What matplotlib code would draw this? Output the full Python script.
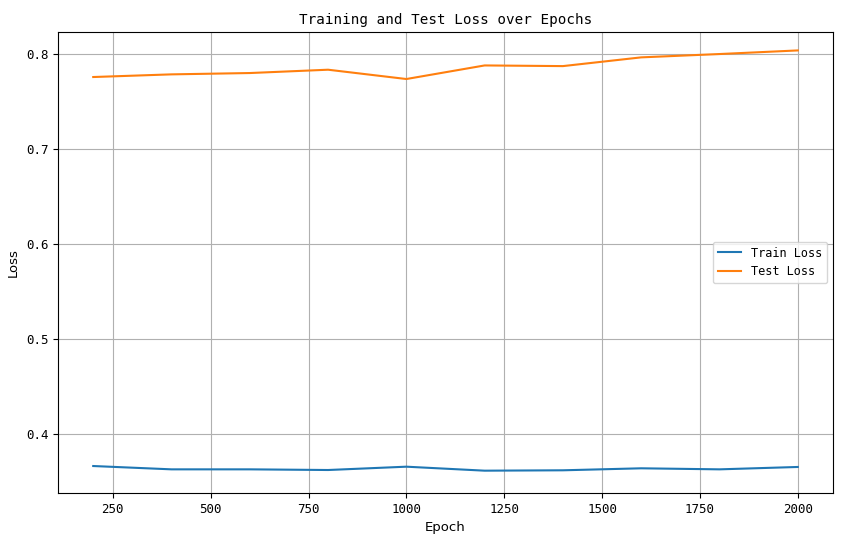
import matplotlib
matplotlib.use("Agg")
import matplotlib.pyplot as plt

epochs = [200, 400, 600, 800, 1000, 1200, 1400, 1600, 1800, 2000]
train_loss = [0.3663, 0.3628, 0.3628, 0.3621, 0.3656, 0.3614, 0.3618, 0.3639, 0.3628, 0.3653]
test_loss = [0.7758, 0.7786, 0.7800, 0.7835, 0.7737, 0.7880, 0.7873, 0.7965, 0.8000, 0.8038]

mono = "DejaVu Sans Mono"

fig = plt.figure(figsize=(8.43, 5.41), dpi=100)
ax = fig.add_axes([58 / 843, 1 - 493 / 541, (833 - 58) / 843, (493 - 32) / 541])
ax.plot(epochs, train_loss, label="Train Loss")
ax.plot(epochs, test_loss, label="Test Loss")
ax.set_ylim(0.3379, 0.8232)
ax.set_title("Training and Test Loss over Epochs", fontfamily=mono, fontsize=10.3)
ax.set_xlabel("Epoch", fontsize=9.5)
ax.set_ylabel("Loss", fontsize=9.5)
ax.grid(True)
for lbl in ax.get_xticklabels() + ax.get_yticklabels():
    lbl.set_fontfamily(mono)
    lbl.set_fontsize(9)
leg = ax.legend(loc="center right", prop={"family": mono, "size": 8.6})
fig.savefig("out.png", dpi=100)
